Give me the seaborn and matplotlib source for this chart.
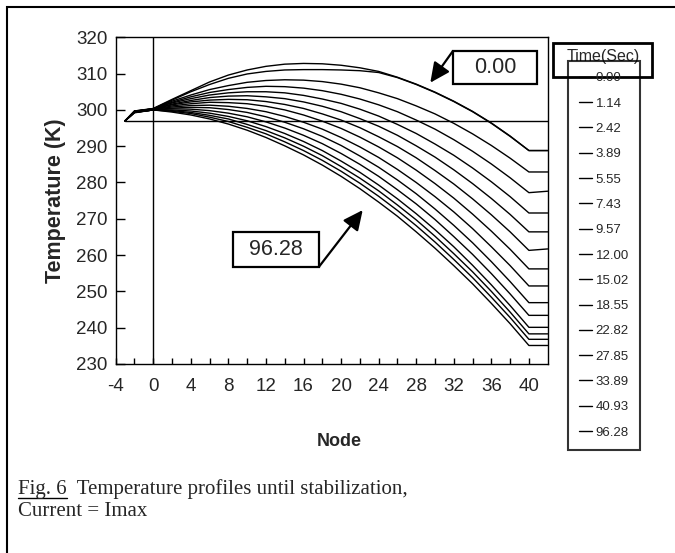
import numpy as np
import pandas as pd
import matplotlib
matplotlib.use("Agg")
import matplotlib.pyplot as plt
import seaborn as sns
from matplotlib.lines import Line2D
from matplotlib.patches import Rectangle

# ---------------- data ----------------
NODES = [-3, -2, 0, 2, 4, 6, 8, 10, 12, 14, 16, 18, 20, 22, 24, 26, 28, 30,
         32, 34, 36, 38, 40, 42]

TIMES = ["0.00", "1.14", "2.42", "3.89", "5.55", "7.43", "9.57", "12.00",
         "15.02", "18.55", "22.82", "27.85", "33.89", "40.93", "96.28"]

T_0_00 = [297.0, 299.7, 300.4, 302.9, 305.3, 307.7, 309.6, 311.0, 312.0, 312.6, 312.8, 312.7,
          312.3, 311.6, 310.6, 309.0, 307.1, 304.9, 302.4, 299.6, 296.4, 292.8, 288.8, 288.8]
T_1_14 = [297.0, 299.7, 300.3, 302.7, 305.0, 307.0, 308.7, 309.9, 310.6, 311.0, 311.1, 311.1,
          311.0, 310.8, 310.3, 308.9, 307.0, 304.8, 302.3, 299.5, 296.3, 292.7, 288.8, 288.8]
T_2_42 = [297.0, 299.6, 300.3, 302.4, 304.1, 305.6, 306.7, 307.6, 308.1, 308.3, 308.2, 307.8,
          307.1, 306.1, 304.7, 303.1, 301.1, 298.9, 296.3, 293.4, 290.2, 286.7, 282.9, 282.9]
T_3_89 = [297.0, 299.6, 300.3, 302.1, 303.6, 304.8, 305.6, 306.2, 306.5, 306.4, 306.0, 305.3,
          304.3, 303.0, 301.4, 299.5, 297.2, 294.7, 291.8, 288.6, 285.1, 281.3, 277.2, 277.6]
T_5_55 = [297.0, 299.6, 300.3, 301.9, 303.1, 304.1, 304.7, 305.0, 305.0, 304.7, 304.0, 303.0,
          301.8, 300.2, 298.3, 296.0, 293.5, 290.6, 287.5, 284.0, 280.2, 276.1, 271.6, 271.6]
T_7_43 = [297.0, 299.5, 300.2, 301.6, 302.6, 303.4, 303.8, 303.9, 303.6, 303.1, 302.2, 301.0,
          299.5, 297.6, 295.5, 293.0, 290.1, 287.0, 283.5, 279.7, 275.6, 271.2, 266.4, 266.4]
T_9_57 = [297.0, 299.5, 300.2, 301.4, 302.2, 302.7, 302.9, 302.8, 302.3, 301.5, 300.4, 298.9,
          297.2, 295.1, 292.6, 289.9, 286.8, 283.3, 279.6, 275.5, 271.1, 266.4, 261.3, 261.7]
T_12_00 = [297.0, 299.5, 300.1, 301.1, 301.7, 302.1, 302.0, 301.7, 301.0, 300.0, 298.6, 296.9,
           294.9, 292.5, 289.8, 286.8, 283.4, 279.7, 275.7, 271.3, 266.6, 261.6, 256.2, 256.2]
T_15_02 = [297.0, 299.4, 300.1, 300.8, 301.2, 301.3, 301.0, 300.4, 299.5, 298.2, 296.6, 294.7,
           292.4, 289.8, 286.9, 283.6, 280.0, 276.1, 271.9, 267.3, 262.3, 257.1, 251.5, 251.5]
T_18_55 = [297.0, 299.4, 300.0, 300.5, 300.7, 300.6, 300.1, 299.3, 298.1, 296.6, 294.8, 292.7,
           290.2, 287.3, 284.2, 280.7, 276.9, 272.7, 268.2, 263.4, 258.2, 252.7, 246.9, 246.9]
T_22_82 = [297.0, 299.4, 300.0, 300.3, 300.2, 299.8, 299.1, 298.1, 296.7, 295.0, 293.0, 290.7,
           288.0, 285.0, 281.7, 278.0, 274.1, 269.8, 265.1, 260.2, 254.9, 249.3, 243.4, 243.4]
T_27_85 = [297.0, 299.3, 300.0, 300.0, 299.7, 299.1, 298.2, 297.0, 295.4, 293.5, 291.3, 288.8,
           285.9, 282.8, 279.3, 275.5, 271.4, 267.0, 262.3, 257.2, 251.8, 246.1, 240.1, 240.1]
T_33_89 = [297.0, 299.3, 300.0, 299.8, 299.3, 298.5, 297.5, 296.0, 294.3, 292.3, 290.0, 287.4,
           284.4, 281.2, 277.7, 273.8, 269.7, 265.2, 260.4, 255.4, 250.0, 244.3, 238.3, 238.3]
T_40_93 = [297.0, 299.3, 300.0, 299.6, 299.0, 298.0, 296.8, 295.2, 293.4, 291.2, 288.8, 286.1,
           283.1, 279.8, 276.2, 272.3, 268.1, 263.6, 258.8, 253.8, 248.4, 242.8, 236.8, 236.8]
T_96_28 = [297.0, 299.2, 300.0, 299.4, 298.6, 297.5, 296.1, 294.4, 292.4, 290.1, 287.6, 284.8,
           281.7, 278.3, 274.6, 270.7, 266.4, 261.9, 257.1, 252.1, 246.7, 241.1, 235.1, 235.1]

PROFILES = [T_0_00, T_1_14, T_2_42, T_3_89, T_5_55, T_7_43, T_9_57, T_12_00,
            T_15_02, T_18_55, T_22_82, T_27_85, T_33_89, T_40_93, T_96_28]

AMBIENT_T = 297.0          # horizontal reference line
X_TICKS = list(range(-4, 41, 4))
X_MINOR = list(range(-2, 41, 4))
Y_TICKS = list(range(230, 321, 10))

# annotation boxes (data coords)
BOX_TOP = dict(text="0.00", x0=31.9, y0=307.1, w=9.0, h=9.1, tail=(31.9, 316.2), tip=(29.5, 307.5))
BOX_BOT = dict(text="96.28", x0=8.5, y0=256.8, w=9.15, h=9.6, tail=(17.65, 256.8), tip=(22.3, 272.4))

# ---------------- figure ----------------
sns.set_theme(style="white")
plt.rcParams['font.family'] = ['Liberation Sans', 'DejaVu Sans']
plt.rcParams['axes.unicode_minus'] = False

W, H = 675, 553
fig = plt.figure(figsize=(W / 100, H / 100), dpi=100)
fig.patch.set_facecolor("white")

def fx(px):
    return px / W

def fy(py):
    return 1 - py / H

ax_l, ax_r, ax_t, ax_b = 115.7, 547.7, 37.3, 364.0
ax = fig.add_axes([fx(ax_l), fy(ax_b), fx(ax_r) - fx(ax_l), fy(ax_t) - fy(ax_b)])
ax.set_facecolor("white")

rows = []
for label, prof in zip(TIMES, PROFILES):
    for n, t in zip(NODES, prof):
        rows.append({"Node": n, "Temperature": t, "Time": label})
df = pd.DataFrame(rows)

sns.lineplot(data=df, x="Node", y="Temperature", hue="Time", hue_order=TIMES,
             palette={t: "black" for t in TIMES}, estimator=None, errorbar=None,
             legend=False, linewidth=1.0, ax=ax)

ax.plot([NODES[0], NODES[-1]], [AMBIENT_T, AMBIENT_T], color="black", lw=1.0)
ax.axvline(0, color="black", lw=1.0)

ax.set_xlim(-4, 42)
ax.set_ylim(230, 320)
ax.set_xticks(X_TICKS)
ax.set_xticks(X_MINOR, minor=True)
ax.set_yticks(Y_TICKS)
ax.tick_params(axis="x", which="both", direction="in", length=4.3, width=1.0,
               color="black", labelsize=13.5, pad=10, bottom=True)
ax.tick_params(axis="y", which="major", direction="in", length=6.5, width=1.0,
               color="black", labelsize=13.5, pad=6, left=True)
for s in ax.spines.values():
    s.set_color("black")
    s.set_linewidth(1.0)
ax.grid(False)

ax.set_xlabel("Node", fontsize=13, fontweight="bold", va="center")
ax.xaxis.set_label_coords((339 - ax_l) / (ax_r - ax_l), (ax_b - 442) / (ax_b - ax_t))
ax.set_ylabel("Temperature (K)", fontsize=15.5, fontweight="bold", va="center")
ax.yaxis.set_label_coords((55 - ax_l) / (ax_r - ax_l), 0.5)

# annotation boxes with arrows
for b in (BOX_TOP, BOX_BOT):
    ax.add_patch(Rectangle((b["x0"], b["y0"]), b["w"], b["h"], facecolor="white",
                           edgecolor="black", lw=1.6, zorder=5))
    ax.text(b["x0"] + b["w"] / 2, b["y0"] + b["h"] / 2, b["text"], ha="center",
            va="center", fontsize=15.5, zorder=6)
    ax.annotate("", xy=b["tip"], xytext=b["tail"],
                arrowprops=dict(arrowstyle="-|>,head_length=0.8,head_width=0.38",
                                color="black", lw=1.6, shrinkA=0, shrinkB=0,
                                mutation_scale=15), zorder=6)

# legend
handles = [Line2D([], [], color="black", lw=1.0) for _ in TIMES]
leg = fig.legend(handles, TIMES, loc="upper left",
                 bbox_to_anchor=(fx(568), fy(61)), bbox_transform=fig.transFigure,
                 frameon=True, fancybox=False, edgecolor="black", facecolor="none",
                 fontsize=9.5, handlelength=0.95, handletextpad=0.3, labelspacing=0.99,
                 borderpad=0.85, borderaxespad=0)
leg.get_frame().set_linewidth(1.5)

fig.add_artist(Rectangle((fx(553), fy(77)), fx(652) - fx(553), fy(43) - fy(77),
                         transform=fig.transFigure, fill=False, ec="black", lw=2.0))
fig.text(fx(603), fy(57), "Time(Sec)", ha="center", va="center", fontsize=11.5)

# outer frame
fig.add_artist(Rectangle((fx(7), -0.05), 1.1, fy(7) + 0.05, transform=fig.transFigure,
                         fill=False, ec="black", lw=1.5))

# caption
serif = ["Liberation Serif", "DejaVu Serif"]
cap_x, cap_y1, cap_y2 = fx(18), fy(494), fy(516)
fig.text(cap_x, cap_y1, "Fig. 6  Temperature profiles until stabilization,",
         family=serif, fontsize=15, va="baseline", ha="left")
fig.text(cap_x, cap_y2, "Current = Imax", family=serif, fontsize=15, va="baseline", ha="left")
renderer = fig.canvas.get_renderer()
probe = fig.text(cap_x, cap_y1, "Fig. 6", family=serif, fontsize=15, va="baseline", ha="left")
ext = probe.get_window_extent(renderer=renderer)
probe.remove()
fig.add_artist(Line2D([cap_x, cap_x + ext.width / W], [fy(497.5), fy(497.5)],
                      transform=fig.transFigure, color="black", lw=1.0))

fig.savefig("out.png", dpi=100, facecolor="white")
